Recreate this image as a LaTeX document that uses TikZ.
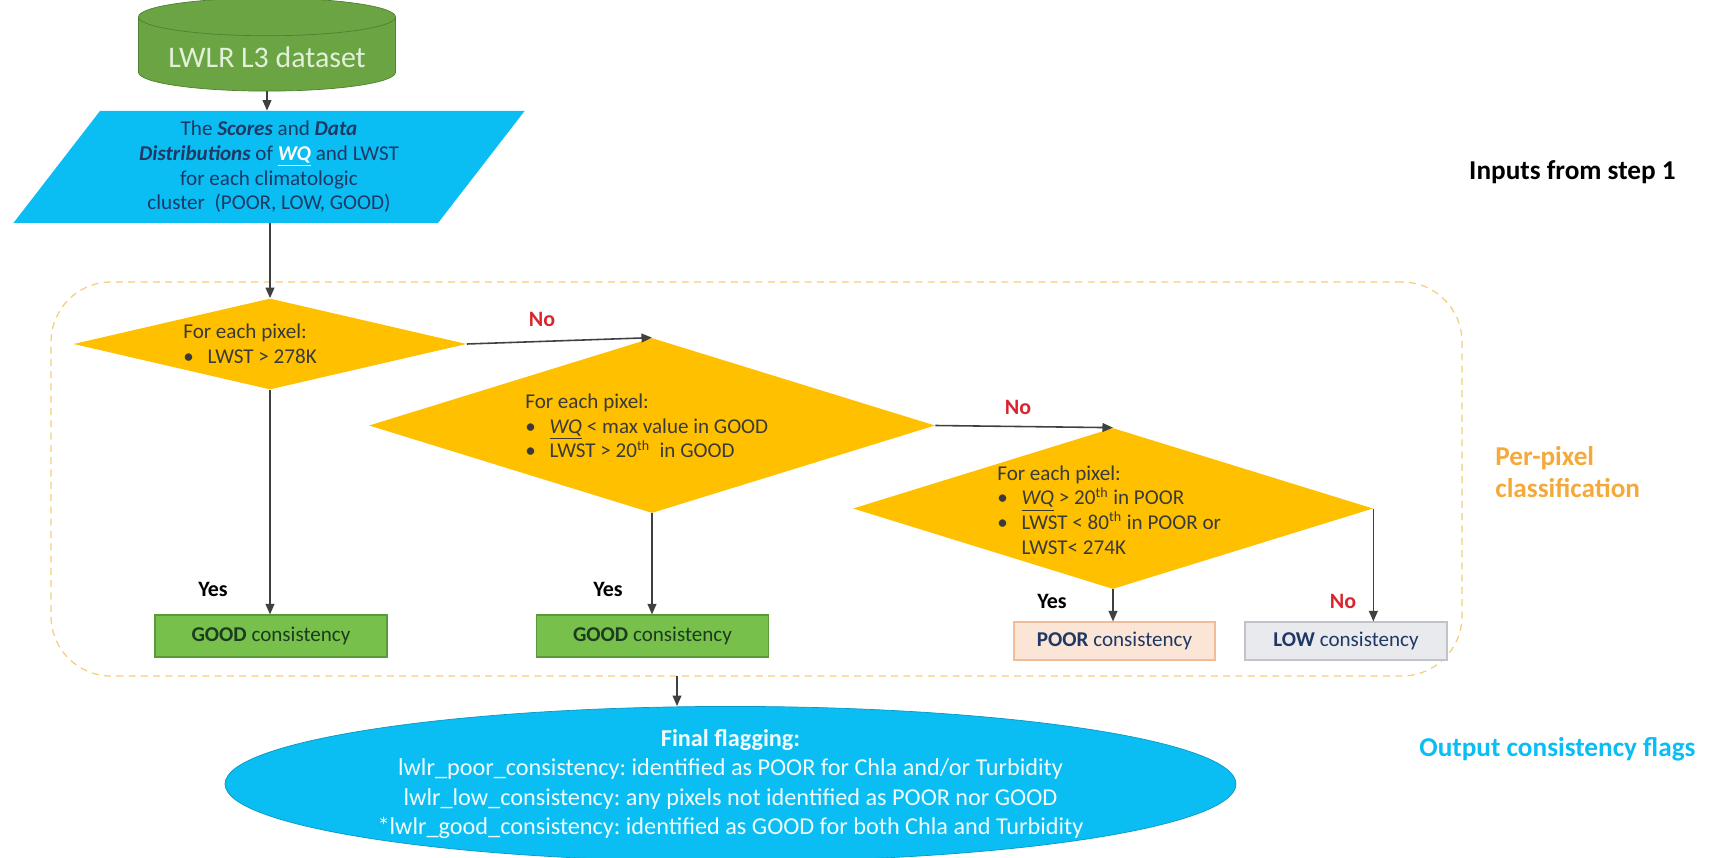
\documentclass[tikz,border=0pt]{standalone}
\usepackage{fontspec}
\setmainfont{Carlito}
\usepackage{tikz}
\usetikzlibrary{positioning, shapes.geometric, arrows.meta}

\definecolor{dsgreen}{HTML}{6BA543}
\definecolor{dsborder}{HTML}{4F7F30}
\definecolor{dstext}{HTML}{E2F0D9}
\definecolor{skyblue}{HTML}{0ABEF3}
\definecolor{navy}{HTML}{1F3864}
\definecolor{gold}{HTML}{FFC000}
\definecolor{condgray}{HTML}{3A3A3A}
\definecolor{goodgreen}{HTML}{76C04B}
\definecolor{goodborder}{HTML}{5A9A3A}
\definecolor{goodtext}{HTML}{1D3B1F}
\definecolor{poorfill}{HTML}{FBE5D6}
\definecolor{poorborder}{HTML}{F2BC98}
\definecolor{lowfill}{HTML}{E8EAEE}
\definecolor{lowborder}{HTML}{C0C4CA}
\definecolor{arrgray}{HTML}{404040}
\definecolor{framecol}{HTML}{F6CD7A}
\definecolor{norred}{HTML}{D9262E}
\definecolor{steporange}{HTML}{F4A93A}

\def\px{0.02cm}
\newcommand{\WQ}{\underline{\textit{WQ}}}
\newcommand{\bull}{\makebox[13.8pt][l]{\textbullet}}
\newcommand{\nobull}{\makebox[13.8pt]{}}

\tikzset{
    arr/.style={draw=arrgray, line width=0.9pt, -{Triangle[length=6pt,width=5pt]}},
    dataset/.style={cylinder, shape border rotate=90, aspect=0.18, draw=dsborder, fill=dsgreen,
        minimum width=257*\px, minimum height=93*\px, text=dstext, font=\fontsize{17}{20}\selectfont},
    inputs/.style={trapezium, trapezium left angle=56, trapezium right angle=124, trapezium stretches=true,
        fill=skyblue, minimum width=512*\px, minimum height=112*\px, text=navy, align=center,
        font=\fontsize{12}{14}\selectfont},
    decision/.style={diamond, fill=gold, inner sep=0pt},
    condtext/.style={anchor=west, inner sep=0pt, align=left, text=condgray, font=\fontsize{12}{14}\selectfont},
    result/.style={rectangle, draw, line width=0.6pt, font=\fontsize{12}{14}\selectfont},
    goodbox/.style={result, fill=goodgreen, draw=goodborder, text=goodtext, minimum width=232*\px, minimum height=42*\px},
    poorbox/.style={result, fill=poorfill, draw=poorborder, text=navy, minimum width=201*\px, minimum height=38*\px},
    lowbox/.style={result, fill=lowfill, draw=lowborder, text=navy, minimum width=202*\px, minimum height=38*\px},
    groupbox/.style={draw=framecol, line width=0.7pt, dash pattern=on 4pt off 3pt, rounded corners=60*\px},
    flagout/.style={ellipse, fill=skyblue, draw=skyblue!80!black, inner sep=0pt, text=white!94!skyblue,
        minimum width=1011*\px, minimum height=154*\px, align=center, font=\fontsize{13.8}{16.8}\selectfont},
    answer/.style={font=\bfseries\fontsize{12.5}{14}\selectfont, inner sep=0pt},
    sidelabel/.style={font=\bfseries\fontsize{15.5}{18.5}\selectfont, inner sep=0pt, align=left},
}

\begin{document}
\begin{tikzpicture}[x=\px, y=-\px]
    \useasboundingbox (0,0) rectangle (1711,858);

    % per-pixel frame
    \node[groupbox, minimum width=1411*\px, minimum height=394*\px] (group) at (756.5,479) {};

    % inputs
    \node[dataset] (data) at (267,57) {LWLR L3 dataset};
    \node[inputs] (scores) at (269,167)
        {The \textbf{\textit{Scores}} and \textbf{\textit{Data}}\\
         \textbf{\textit{Distributions}} of {\color{white}\textbf{\WQ}} and LWST\\
         for each climatologic\\
         cluster\ \ (POOR, LOW, GOOD)};

    % decisions
    \node[decision, minimum width=393*\px, minimum height=91*\px] (d1) at (270,344) {};
    \node[decision, minimum width=566*\px, minimum height=175*\px] (d2) at (652,425.5) {};
    \node[decision, minimum width=520*\px, minimum height=161*\px] (d3) at (1113,508.5) {};

    \node[condtext] (c1) at (183,344) {For each pixel:\\ \bull LWST > 278K};
    \node[condtext] (c2) at (525,426) {For each pixel:\\ \bull\WQ\ < max value in GOOD\\
        \bull LWST > 20\textsuperscript{th}\ \ in GOOD};
    \node[condtext] (c3) at (997,510) {For each pixel:\\ \bull\WQ\ > 20\textsuperscript{th}\ in POOR\\
        \bull LWST < 80\textsuperscript{th}\ in POOR or\\ \nobull LWST< 274K};

    % results
    \node[goodbox] (good1) at (271,636) {\textbf{GOOD} consistency};
    \node[goodbox] (good2) at (652.5,636) {\textbf{GOOD} consistency};
    \node[poorbox] (poor) at (1114.5,641) {\textbf{POOR} consistency};
    \node[lowbox] (low) at (1346,641) {\textbf{LOW} consistency};

    % final flags
    \node[flagout] (final) at (730.5,784)
        {\textbf{Final flagging:}\\
         lwlr\_poor\_consistency:\ identified as POOR for Chla and/or Turbidity\\
         lwlr\_low\_consistency:\ any pixels not identified as POOR nor GOOD\\
         *lwlr\_good\_consistency:\ identified as GOOD for both Chla and Turbidity};

    % answers
    \foreach \n/\pos/\txt/\col in {
        yes1/{(213,589)}/Yes/black,
        yes2/{(608,589)}/Yes/black,
        yes3/{(1052,601)}/Yes/black,
        no1/{(542,319)}/No/norred,
        no2/{(1018,407)}/No/norred,
        no3/{(1343,601)}/No/norred}{
        \node[answer, text=\col] (\n) at \pos {\txt};
    }

    % side labels
    \node[sidelabel, anchor=east] (steplbl) at (1676,172) {Inputs from step 1};
    \node[sidelabel, anchor=west, text=steporange] (pixlbl) at (1495,472) {Per-pixel\\classification};
    \node[sidelabel, anchor=west, text=skyblue] (outlbl) at (1419,749) {Output consistency flags};

    % connectors
    \coordinate (grpout) at (677,676);
    \draw[arr] (data.south) -- (data.south |- scores.north);
    \draw[arr] (scores.south -| d1.north) -- (d1.north);
    \draw[arr] (d1.east) -- (d2.north);
    \draw[arr] (d2.east) -- (d3.north);
    \draw[arr] (d1.south) -- (d1.south |- good1.north);
    \draw[arr] (d2.south) -- (d2.south |- good2.north);
    \draw[arr] (d3.south) -- (d3.south |- poor.north);
    \draw[arr] (d3.east) -- (d3.east |- low.north);
    \draw[arr] (grpout) -- (grpout |- final.north);
\end{tikzpicture}
\end{document}
